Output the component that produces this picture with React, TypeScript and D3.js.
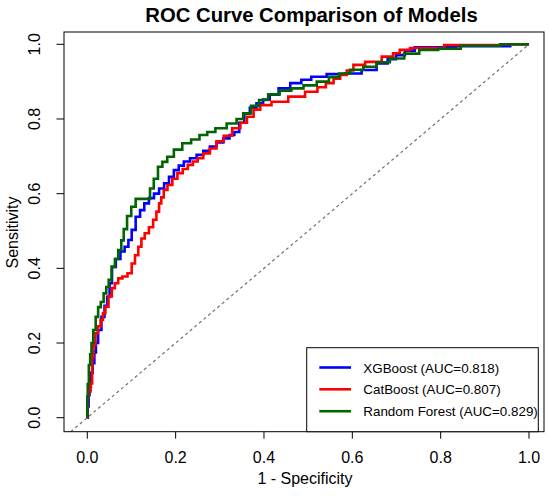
import React from "react";
import * as d3 from "d3";

const xTicks = [0, 0.2, 0.4, 0.6, 0.8, 1.0];
const yTicks = [0, 0.2, 0.4, 0.6, 0.8, 1.0];

const xgbFPR = [0,0.002,0.004,0.006,0.01,0.014,0.018,0.021,0.028,0.036,0.042,0.048,0.053,0.059,0.07,0.08,0.089,0.097,0.104,0.115,0.124,0.134,0.145,0.157,0.168,0.18,0.19,0.202,0.212,0.225,0.24,0.255,0.27,0.285,0.3,0.316,0.328,0.338,0.35,0.361,0.375,0.391,0.405,0.421,0.445,0.474,0.495,0.519,0.565,0.602,0.64,0.67,0.69,0.708,0.73,0.753,0.915,1];
const xgbTPR = [0,0.03,0.06,0.083,0.12,0.146,0.175,0.2,0.235,0.27,0.3,0.324,0.36,0.404,0.425,0.445,0.458,0.476,0.503,0.538,0.556,0.574,0.588,0.6,0.614,0.628,0.645,0.663,0.675,0.686,0.695,0.704,0.715,0.726,0.737,0.748,0.757,0.765,0.79,0.815,0.83,0.842,0.852,0.865,0.882,0.896,0.905,0.913,0.92,0.922,0.931,0.949,0.96,0.971,0.983,0.992,0.995,1];

const catFPR = [0,0,0.005,0.01,0.012,0.016,0.021,0.027,0.033,0.038,0.044,0.052,0.059,0.066,0.074,0.085,0.097,0.104,0.112,0.119,0.126,0.134,0.145,0.153,0.16,0.165,0.17,0.176,0.187,0.198,0.21,0.222,0.233,0.245,0.255,0.27,0.285,0.3,0.318,0.338,0.355,0.368,0.385,0.398,0.436,0.474,0.512,0.53,0.55,0.565,0.58,0.595,0.61,0.648,0.685,0.7,0.715,0.746,0.87,1];
const catTPR = [0,0.056,0.07,0.092,0.163,0.195,0.226,0.245,0.262,0.28,0.297,0.325,0.347,0.36,0.373,0.378,0.387,0.413,0.435,0.458,0.48,0.494,0.51,0.53,0.552,0.574,0.59,0.61,0.623,0.64,0.655,0.666,0.677,0.686,0.695,0.708,0.721,0.74,0.755,0.775,0.79,0.806,0.825,0.837,0.846,0.86,0.873,0.885,0.896,0.908,0.918,0.93,0.945,0.953,0.967,0.976,0.985,0.99,0.998,1];

const rfFPR = [0,0,0.002,0.005,0.008,0.011,0.016,0.022,0.027,0.034,0.04,0.046,0.051,0.059,0.066,0.074,0.08,0.085,0.095,0.104,0.115,0.138,0.146,0.155,0.165,0.175,0.187,0.205,0.225,0.245,0.263,0.28,0.3,0.331,0.345,0.361,0.38,0.398,0.421,0.45,0.474,0.505,0.534,0.56,0.58,0.61,0.64,0.67,0.7,0.735,0.768,0.821,0.87,1];
const rfTPR = [0,0.056,0.09,0.141,0.17,0.2,0.235,0.27,0.296,0.31,0.333,0.35,0.369,0.404,0.425,0.449,0.475,0.505,0.54,0.565,0.586,0.586,0.614,0.64,0.672,0.685,0.699,0.718,0.735,0.745,0.757,0.765,0.775,0.788,0.8,0.815,0.835,0.851,0.866,0.876,0.882,0.89,0.9,0.912,0.922,0.932,0.94,0.952,0.962,0.975,0.985,0.988,0.996,1];

const seriesNames = ["XGBoost (AUC=0.818)", "CatBoost (AUC=0.807)", "Random Forest (AUC=0.829)"];
const seriesColors = ["#0000FF", "#FF0000", "#006400"];

const FONT = "'Liberation Sans', Arial, Helvetica, sans-serif";

export default function App() {
  const W = 550, H = 496;
  const box = { l: 64, t: 32, r: 544, b: 431.7 };
  const x = d3.scaleLinear().domain([0, 1]).range([87.3, 529]);
  const y = d3.scaleLinear().domain([0, 1]).range([417.7, 44.3]);

  const series = [
    { fpr: xgbFPR, tpr: xgbTPR },
    { fpr: catFPR, tpr: catTPR },
    { fpr: rfFPR, tpr: rfTPR },
  ];
  const line = d3
    .line<[number, number]>()
    .x((d) => x(d[0]))
    .y((d) => y(d[1]))
    .curve(d3.curveStep);

  const d0 = x.invert(box.l) > y.invert(box.b) ? x.invert(box.l) : y.invert(box.b);

  const legend = { l: 306.7, t: 347.7, r: 538.3, b: 431.7 };
  const rowY = [367.5, 389.3, 411.2];

  return (
    <svg width={W} height={H} style={{ position: "absolute", left: 0, top: 0, background: "#fff" }} fontFamily={FONT}>
      <rect x={0} y={0} width={W} height={H} fill="#fff" />
      <defs>
        <clipPath id="plotclip">
          <rect x={box.l} y={box.t} width={box.r - box.l} height={box.b - box.t} />
        </clipPath>
      </defs>
      <text x={311.5} y={21.7} textAnchor="middle" fontSize={20.3} fontWeight="bold">
        ROC Curve Comparison of Models
      </text>
      <g clipPath="url(#plotclip)">
        <line
          x1={x(d0)}
          y1={y(d0)}
          x2={x(1)}
          y2={y(1)}
          stroke="#707070"
          strokeWidth={1.2}
          strokeDasharray="3,3"
        />
        {series.map((s, i) => (
          <path
            key={i}
            d={line(s.fpr.map((f, j) => [f, s.tpr[j]] as [number, number])) || ""}
            fill="none"
            stroke={seriesColors[i]}
            strokeWidth={2.6}
            strokeLinejoin="miter"
          />
        ))}
      </g>
      <rect x={box.l} y={box.t} width={box.r - box.l} height={box.b - box.t} fill="none" stroke="#000" strokeWidth={1} />
      {xTicks.map((t) => (
        <g key={"x" + t}>
          <line x1={x(t)} x2={x(t)} y1={box.b} y2={box.b + 7} stroke="#000" strokeWidth={1} />
          <text x={x(t)} y={463.3} textAnchor="middle" fontSize={16}>
            {t.toFixed(1)}
          </text>
        </g>
      ))}
      {yTicks.map((t) => (
        <g key={"y" + t}>
          <line x1={box.l - 7.5} x2={box.l} y1={y(t)} y2={y(t)} stroke="#000" strokeWidth={1} />
          <text
            transform={`translate(40,${y(t)}) rotate(-90)`}
            textAnchor="middle"
            fontSize={16}
          >
            {t.toFixed(1)}
          </text>
        </g>
      ))}
      <text x={305} y={484} textAnchor="middle" fontSize={16}>
        1 - Specificity
      </text>
      <text transform="translate(18.3,232.5) rotate(-90)" textAnchor="middle" fontSize={16}>
        Sensitivity
      </text>
      <rect
        x={legend.l}
        y={legend.t}
        width={legend.r - legend.l}
        height={legend.b - legend.t}
        fill="#fff"
        stroke="#000"
        strokeWidth={1}
      />
      {seriesNames.map((n, i) => (
        <g key={n}>
          <line x1={319.3} x2={351} y1={rowY[i]} y2={rowY[i]} stroke={seriesColors[i]} strokeWidth={2.6} />
          <text x={363.3} y={rowY[i] + 5.1} fontSize={13.4}>
            {n}
          </text>
        </g>
      ))}
    </svg>
  );
}
